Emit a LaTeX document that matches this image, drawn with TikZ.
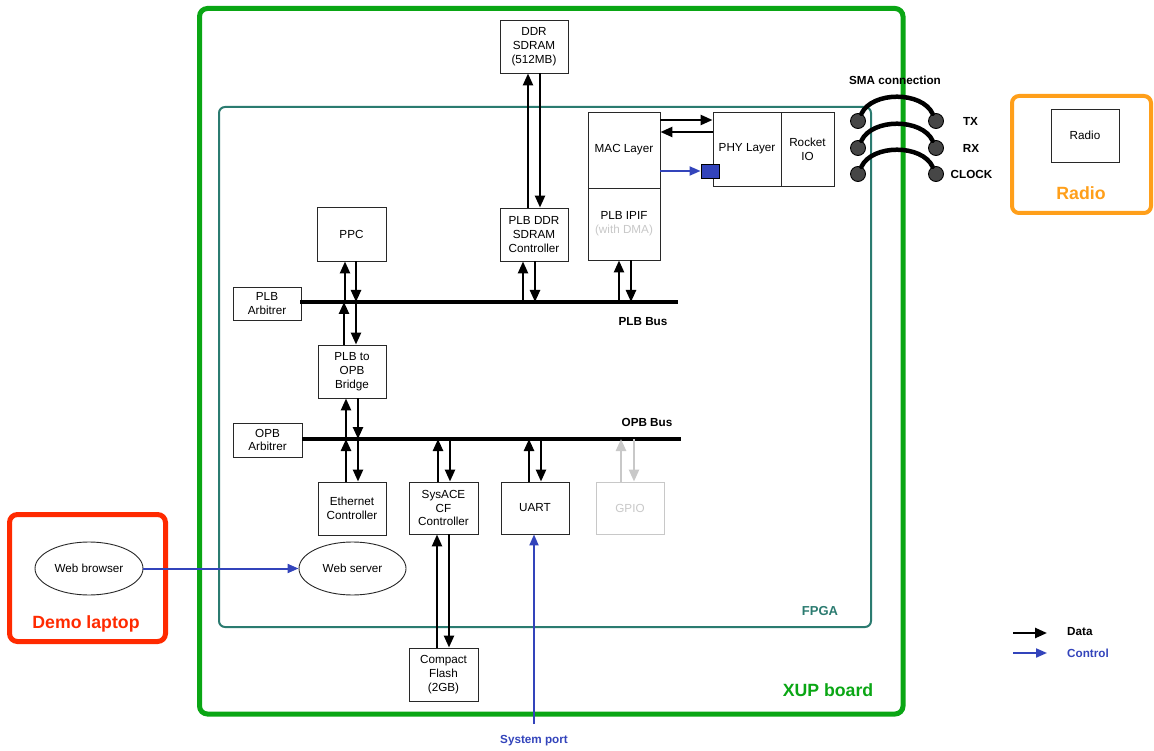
\documentclass[tikz,border=0pt]{standalone}
\usepackage{fontspec}
\setmainfont{Liberation Sans}
\usetikzlibrary{arrows.meta,shapes.geometric}
\definecolor{xupgreen}{RGB}{10,166,20}
\definecolor{fpgateal}{RGB}{43,123,112}
\definecolor{laptopred}{RGB}{255,42,0}
\definecolor{radioorange}{RGB}{255,159,26}
\definecolor{ctrlblue}{RGB}{51,68,187}
\definecolor{boxline}{RGB}{40,40,40}
\definecolor{lightgray}{RGB}{200,200,200}
\definecolor{smagray}{RGB}{70,70,70}
\begin{document}
\begin{tikzpicture}[x=1pt,y=-1pt,
  box/.style={draw=boxline, line width=0.9pt, fill=white, align=center,
    font=\fontsize{11.7}{13.8}\selectfont, inner sep=1pt},
  grayboxstyle/.style={box, draw=lightgray, text=lightgray},
  ell/.style={ellipse, draw=boxline, line width=0.9pt, fill=white, inner sep=0pt,
    font=\fontsize{11.7}{13.8}\selectfont},
  data/.style={draw=black, line width=2.4pt, -{Triangle[length=12pt,width=10pt]}},
  graydata/.style={data, draw=lightgray, -{Triangle[length=12pt,width=10pt,fill=lightgray]}},
  ctrl/.style={draw=ctrlblue, line width=2pt, -{Triangle[length=11pt,width=9pt]}},
  bus/.style={line width=3.2pt},
  lbl/.style={font=\fontsize{11.7}{13.8}\selectfont\bfseries, inner sep=0pt},
  biglbl/.style={font=\fontsize{17.7}{20}\selectfont\bfseries, inner sep=0pt},
  sma/.style={circle, draw=black, fill=smagray, line width=0.9pt, minimum size=15pt, inner sep=0pt},
  smawire/.style={line width=4.5pt, line cap=round}
]
\useasboundingbox (0,0) rectangle (1154,751);

% frames
\draw[xupgreen, line width=5pt, rounded corners=8pt] (199.5,8.5) rectangle (903,714);
\draw[fpgateal, line width=2pt, rounded corners=6pt] (219,107) rectangle (871,627);
\draw[laptopred, line width=5pt, rounded corners=8pt] (9.5,514.5) rectangle (165.5,641.5);
\draw[radioorange, line width=4pt, rounded corners=7pt] (1012,96) rectangle (1151,213);

% frame labels
\node[biglbl, text=xupgreen] (xuplbl) at (828,690) {XUP board};
\node[lbl, font=\fontsize{13}{15}\selectfont\bfseries, text=fpgateal] (fpgalbl) at (820,611) {FPGA};
\node[biglbl, text=laptopred] (laptoplbl) at (86,624) {Demo laptop};
\node[biglbl, text=radioorange] (radiolbl) at (1081,193) {Radio};

% boxes
\node[box, minimum width=68pt, minimum height=53pt] (ddr) at (534,46.5) {DDR\\SDRAM\\(512MB)};
\node[box, minimum width=68pt, minimum height=53pt] (ddrc) at (534,234.5) {PLB DDR\\SDRAM\\Controller};
\node[box, minimum width=72pt, minimum height=76pt] (mac) at (624,150) {MAC Layer};
\node[box, minimum width=72pt, minimum height=72pt] (ipif) at (624,224) {PLB IPIF\\{\color{lightgray}(with DMA)}};
\node[box, minimum width=68pt, minimum height=74pt] (phy) at (747,149) {PHY Layer};
\node[box, minimum width=53pt, minimum height=74pt] (rio) at (807.5,149) {Rocket\\IO};
\node[draw=black, line width=0.9pt, fill=ctrlblue, minimum width=18pt, minimum height=14pt, inner sep=0pt] (sq) at (710,171) {};
\node[box, minimum width=69pt, minimum height=54pt] (ppc) at (351.5,234) {PPC};
\node[box, minimum width=68pt, minimum height=33pt] (plbarb) at (267,303.5) {PLB\\Arbitrer};
\node[box, minimum width=68pt, minimum height=53pt] (bridge) at (352,371.5) {PLB to\\OPB\\Bridge};
\node[box, minimum width=69pt, minimum height=34pt] (opbarb) at (267.5,440) {OPB\\Arbitrer};
\node[box, minimum width=68pt, minimum height=53pt] (eth) at (352,508.5) {Ethernet\\Controller};
\node[box, minimum width=69pt, minimum height=52pt] (sys) at (443.5,508) {SysACE\\CF\\Controller};
\node[box, minimum width=68pt, minimum height=52pt] (uart) at (535,508) {UART};
\node[grayboxstyle, minimum width=68pt, minimum height=52pt] (gpio) at (630,508) {GPIO};
\node[box, minimum width=69pt, minimum height=53pt] (cf) at (443.5,674.5) {Compact\\Flash\\(2GB)};
\node[box, minimum width=68pt, minimum height=53pt] (radiobox) at (1085,135.5) {Radio};
\node[ell, minimum width=107pt, minimum height=53pt] (server) at (352.5,568.5) {Web server};
\node[ell, minimum width=108pt, minimum height=53pt] (browser) at (89,568.5) {Web browser};

% buses
\coordinate (plbL) at (300,302);
\coordinate (plbR) at (678,302);
\coordinate (opbL) at (302,439);
\coordinate (opbR) at (681,439);
\draw[bus] (plbL) -- (plbR);
\draw[bus] (opbL) -- (opbR);
\node[lbl] (plbbuslbl) at (643,322) {PLB Bus};
\node[lbl] (opbbuslbl) at (647,422) {OPB Bus};

% DDR
\draw[data] ([xshift=-6pt]ddrc.north) -- ([xshift=-6pt]ddr.south);
\draw[data] ([xshift=6pt]ddr.south) -- ([xshift=6pt]ddrc.north);
\draw[data] ([xshift=-11pt]ddrc.south |- plbL) -- ([xshift=-11pt]ddrc.south);
\draw[data] ([xshift=1pt]ddrc.south) -- ([xshift=1pt]ddrc.south |- plbL);
% IPIF
\draw[data] ([xshift=-5pt]ipif.south |- plbL) -- ([xshift=-5pt]ipif.south);
\draw[data] ([xshift=7pt]ipif.south) -- ([xshift=7pt]ipif.south |- plbL);
% MAC/PHY
\draw[data] ([yshift=30pt]mac.east) -- ([yshift=29pt]phy.west);
\draw[data] ([yshift=17pt]phy.west) -- ([yshift=18pt]mac.east);
\draw[ctrl] ([yshift=-21pt]mac.east) -- (sq.west);
% PPC
\draw[data] ([xshift=-6.5pt]ppc.south |- plbL) -- ([xshift=-6.5pt]ppc.south);
\draw[data] ([xshift=4.5pt]ppc.south) -- ([xshift=4.5pt]ppc.south |- plbL);
% Bridge
\draw[data] ([xshift=-8pt]bridge.north) -- ([xshift=-8pt]bridge.north |- plbL);
\draw[data] ([xshift=4pt]bridge.north |- plbL) -- ([xshift=4pt]bridge.north);
\draw[data] ([xshift=-6pt]bridge.south |- opbL) -- ([xshift=-6pt]bridge.south);
\draw[data] ([xshift=6pt]bridge.south) -- ([xshift=6pt]bridge.south |- opbL);
% Ethernet
\draw[data] ([xshift=-6pt]eth.north) -- ([xshift=-6pt]eth.north |- opbL);
\draw[data] ([xshift=6pt]eth.north |- opbL) -- ([xshift=6pt]eth.north);
% SysACE
\draw[data] ([xshift=-5.5pt]sys.north) -- ([xshift=-5.5pt]sys.north |- opbL);
\draw[data] ([xshift=6.5pt]sys.north |- opbL) -- ([xshift=6.5pt]sys.north);
% UART
\draw[data] ([xshift=-6pt]uart.north) -- ([xshift=-6pt]uart.north |- opbL);
\draw[data] ([xshift=6pt]uart.north |- opbL) -- ([xshift=6pt]uart.north);
% GPIO
\draw[graydata] ([xshift=-9pt]gpio.north) -- ([xshift=-9pt]gpio.north |- opbL);
\draw[graydata] ([xshift=4pt]gpio.north |- opbL) -- ([xshift=4pt]gpio.north);
% Compact flash
\draw[data] ([xshift=-6.5pt]cf.north) -- ([xshift=-6.5pt]sys.south);
\draw[data] ([xshift=5.5pt]sys.south) -- ([xshift=5.5pt]cf.north);

% control
\draw[ctrl] (browser.east) -- (server.west);
\coordinate (sysport) at (534,724);
\draw[ctrl] (sysport) -- (uart.south -| sysport);
\node[lbl, text=ctrlblue] (sysportlbl) at (534,741) {System port};

% SMA
\node[lbl] (smalbl) at (895,80) {SMA connection};
\node[sma] (l1) at (858,121) {};
\node[sma] (l2) at (858,148) {};
\node[sma] (l3) at (858,174) {};
\node[sma] (r1) at (936,121) {};
\node[sma] (r2) at (936,148) {};
\node[sma] (r3) at (936,174) {};
\draw[smawire] (l1) .. controls (872,91) and (922,91) .. (r1);
\draw[smawire] (l2) .. controls (872,118) and (922,118) .. (r2);
\draw[smawire] (l3) .. controls (872,144) and (922,144) .. (r3);
\node[lbl] (txlbl) at (970.5,121) {TX};
\node[lbl] (rxlbl) at (971,148) {RX};
\node[lbl] (clklbl) at (971.5,174) {CLOCK};

% legend
\coordinate (dA) at (1013,633);
\coordinate (dB) at (1047,633);
\coordinate (cA) at (1013,653);
\coordinate (cB) at (1047,653);
\draw[data] (dA) -- (dB);
\draw[ctrl] (cA) -- (cB);
\node[lbl, anchor=west] (datalbl) at (1067,632) {Data};
\node[lbl, anchor=west, text=ctrlblue] (ctrllbl) at (1067,653) {Control};
\end{tikzpicture}
\end{document}
